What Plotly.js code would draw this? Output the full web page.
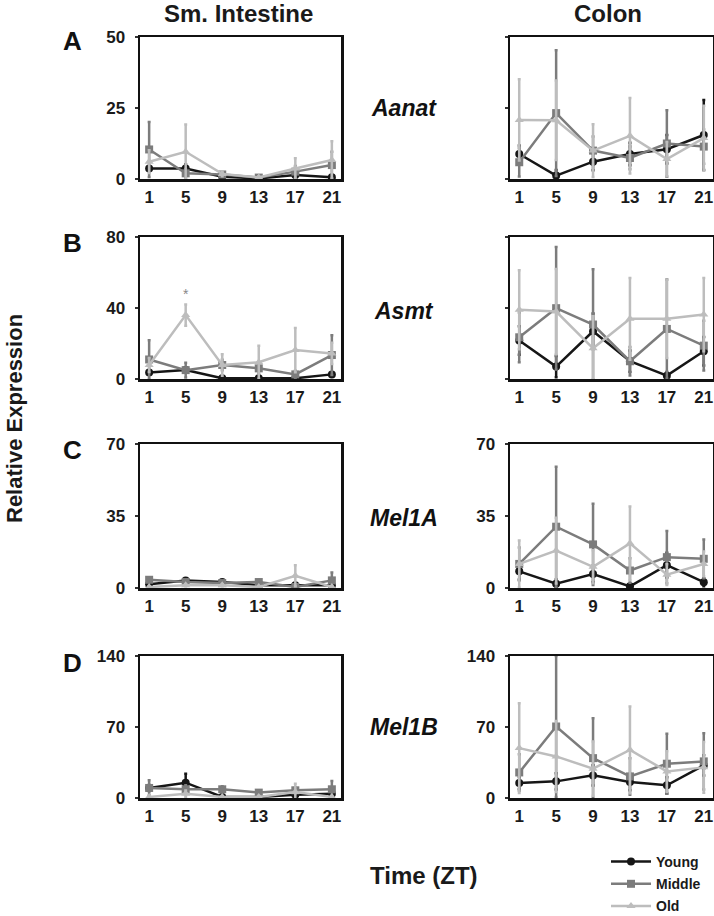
<!DOCTYPE html>
<html>
<head>
<meta charset="utf-8">
<script src="https://cdn.plot.ly/plotly-3.0.1.min.js"></script>
<style>html,body{margin:0;padding:0;background:#fff;}#chart{width:714px;height:916px;}</style>
</head>
<body>
<div id="chart"></div>
<script>
// ---- data ----
const zt = [1, 5, 9, 13, 17, 21];
const groups = ["Young", "Middle", "Old"];
const genes = ["Aanat", "Asmt", "Mel1A", "Mel1B"];
const panelLetters = ["A", "B", "C", "D"];
const yMax = [50, 80, 70, 140];

// Aanat - small intestine
const aanatSI_young = [3.7, 3.7, 0.8, 0.2, 1.4, 0.6];
const aanatSI_youngErr = [0.8, 1.5, 0.3, 0.2, 0.5, 0.3];
const aanatSI_middle = [10.4, 2.0, 1.6, 0.5, 2.6, 4.9];
const aanatSI_middleErr = [9.7, 1.5, 0.5, 0.3, 2.0, 4.7];
const aanatSI_old = [6.1, 9.6, 1.8, 0.5, 3.7, 6.7];
const aanatSI_oldErr = [4.0, 9.6, 0.8, 0.3, 3.6, 6.6];
// Aanat - colon
const aanatCo_young = [8.8, 1.2, 6.1, 8.8, 10.5, 15.5];
const aanatCo_youngErr = [3.0, 2.0, 3.0, 4.0, 5.0, 12.3];
const aanatCo_middle = [5.9, 23.2, 10.0, 7.4, 12.5, 11.4];
const aanatCo_middleErr = [5.0, 22.1, 5.0, 4.0, 11.7, 6.0];
const aanatCo_old = [20.8, 20.7, 10.0, 15.2, 7.0, 14.4];
const aanatCo_oldErr = [14.3, 14.0, 9.3, 13.3, 6.0, 11.4];
// Asmt - small intestine
const asmtSI_young = [3.7, 5.0, 0.4, 0.4, 0.4, 2.6];
const asmtSI_youngErr = [1.0, 1.5, 0.3, 0.3, 0.3, 1.0];
const asmtSI_middle = [11.0, 5.0, 7.9, 6.0, 2.6, 13.5];
const asmtSI_middleErr = [10.9, 4.2, 3.0, 3.0, 2.0, 11.2];
const asmtSI_old = [7.9, 36.0, 7.9, 9.4, 16.3, 14.4];
const asmtSI_oldErr = [4.0, 6.0, 6.1, 9.3, 12.5, 6.0];
// Asmt - colon
const asmtCo_young = [21.7, 7.0, 26.9, 10.0, 1.9, 15.6];
const asmtCo_youngErr = [8.0, 6.0, 10.0, 6.0, 2.0, 8.0];
const asmtCo_middle = [23.5, 39.9, 30.7, 10.0, 28.2, 18.8];
const asmtCo_middleErr = [14.0, 34.5, 31.1, 8.0, 27.9, 14.0];
const asmtCo_old = [39.0, 38.0, 17.3, 33.9, 33.9, 36.3];
const asmtCo_oldErr = [22.2, 24.0, 18.0, 23.0, 22.0, 20.6];
// Mel1A - small intestine
const mel1aSI_young = [1.8, 3.7, 2.9, 1.3, 1.3, 1.3];
const mel1aSI_youngErr = [0.8, 1.0, 0.8, 0.5, 0.5, 0.5];
const mel1aSI_middle = [4.0, 2.9, 2.4, 2.9, 0.5, 3.7];
const mel1aSI_middleErr = [1.0, 0.8, 0.8, 1.0, 0.5, 3.8];
const mel1aSI_old = [0.5, 1.3, 1.3, 0.5, 5.9, 0.5];
const mel1aSI_oldErr = [0.3, 0.5, 0.5, 0.3, 5.1, 0.3];
// Mel1A - colon
const mel1aCo_young = [8.1, 2.1, 6.8, 0.8, 11.1, 2.8];
const mel1aCo_youngErr = [4.0, 2.0, 4.0, 1.0, 6.0, 2.0];
const mel1aCo_middle = [11.7, 29.8, 21.2, 8.5, 15.0, 14.2];
const mel1aCo_middleErr = [8.0, 29.2, 19.8, 6.0, 12.7, 9.4];
const mel1aCo_old = [11.7, 18.2, 10.3, 21.7, 6.5, 11.7];
const mel1aCo_oldErr = [11.4, 16.0, 8.0, 17.9, 5.0, 6.0];
// Mel1B - small intestine
const mel1bSI_young = [9.9, 15.1, 1.0, 1.0, 3.3, 4.3];
const mel1bSI_youngErr = [3.0, 8.9, 1.0, 1.0, 2.0, 2.0];
const mel1bSI_middle = [9.9, 8.6, 8.6, 5.3, 7.6, 8.6];
const mel1bSI_middleErr = [7.5, 4.0, 3.0, 2.0, 3.0, 8.2];
const mel1bSI_old = [1.0, 4.3, 1.0, 1.0, 5.9, 1.0];
const mel1bSI_oldErr = [1.0, 3.0, 1.0, 1.0, 8.1, 1.0];
// Mel1B - colon
const mel1bCo_young = [14.8, 16.4, 22.3, 15.7, 12.5, 32.1];
const mel1bCo_youngErr = [6.0, 8.0, 10.0, 8.0, 8.0, 10.0];
const mel1bCo_middle = [25.2, 70.5, 39.3, 21.3, 33.8, 36.1];
const mel1bCo_middleErr = [18.0, 69.5, 39.4, 18.0, 29.5, 27.8];
const mel1bCo_old = [49.2, 41.0, 28.9, 47.5, 26.2, 30.2];
const mel1bCo_oldErr = [44.2, 35.0, 26.8, 42.7, 20.0, 25.0];

// ---- assemble ----
const panels = [
  [[aanatSI_young, aanatSI_youngErr, aanatSI_middle, aanatSI_middleErr, aanatSI_old, aanatSI_oldErr],
   [aanatCo_young, aanatCo_youngErr, aanatCo_middle, aanatCo_middleErr, aanatCo_old, aanatCo_oldErr]],
  [[asmtSI_young, asmtSI_youngErr, asmtSI_middle, asmtSI_middleErr, asmtSI_old, asmtSI_oldErr],
   [asmtCo_young, asmtCo_youngErr, asmtCo_middle, asmtCo_middleErr, asmtCo_old, asmtCo_oldErr]],
  [[mel1aSI_young, mel1aSI_youngErr, mel1aSI_middle, mel1aSI_middleErr, mel1aSI_old, mel1aSI_oldErr],
   [mel1aCo_young, mel1aCo_youngErr, mel1aCo_middle, mel1aCo_middleErr, mel1aCo_old, mel1aCo_oldErr]],
  [[mel1bSI_young, mel1bSI_youngErr, mel1bSI_middle, mel1bSI_middleErr, mel1bSI_old, mel1bSI_oldErr],
   [mel1bCo_young, mel1bCo_youngErr, mel1bCo_middle, mel1bCo_middleErr, mel1bCo_old, mel1bCo_oldErr]]
];

const colors = ["#161616", "#7c7c7c", "#bdbdbd"];
const symbols = ["circle", "square", "triangle-up"];
const FONT = "Liberation Sans, Arial, Helvetica, sans-serif";
const W = 714, H = 916;

const colDomX = [[140 / W, 341 / W], [510 / W, 713 / W]];
const rowPix = [[37, 179], [237, 379], [444, 588], [656, 798]];
const showYLabels = [[true, false], [true, false], [true, true], [true, true]];

const traces = [];
const layout = {
  width: W, height: H,
  margin: {l: 0, r: 0, t: 0, b: 0, autoexpand: false},
  paper_bgcolor: "#ffffff", plot_bgcolor: "#ffffff",
  font: {family: FONT, color: "#1a1a1a"},
  showlegend: true,
  legend: {
    x: 606 / W, y: 1 - 846 / H, xanchor: "left", yanchor: "top",
    font: {family: FONT, size: 14, weight: "bold", color: "#1a1a1a"},
    bgcolor: "rgba(0,0,0,0)", tracegroupgap: 1, itemwidth: 40
  },
  annotations: [],
  shapes: []
};

for (let r = 0; r < 4; r++) {
  for (let c = 0; c < 2; c++) {
    const n = r * 2 + c + 1;
    const xa = n === 1 ? "x" : "x" + n;
    const ya = n === 1 ? "y" : "y" + n;
    const d = panels[r][c];
    for (let g = 0; g < 3; g++) {
      traces.push({
        type: "scatter", mode: "lines+markers",
        x: zt, y: d[g * 2],
        error_y: {type: "data", array: d[g * 2 + 1], visible: true, color: colors[g], thickness: 2.5, width: 1.5},
        line: {color: colors[g], width: 2.5},
        marker: {color: colors[g], symbol: symbols[g], size: 8},
        name: groups[g], legendgroup: groups[g],
        showlegend: n === 1,
        xaxis: xa, yaxis: ya, cliponaxis: true
      });
    }
    const top = 1 - rowPix[r][0] / H, bot = 1 - rowPix[r][1] / H;
    const ymax = yMax[r];
    layout["xaxis" + (n === 1 ? "" : n)] = {
      domain: colDomX[c], range: [0, 22], anchor: ya,
      tickvals: zt, ticktext: zt.map(String), ticks: "",
      showline: true, mirror: true, linecolor: "#111", linewidth: 2.5,
      showgrid: false, zeroline: false, fixedrange: true,
      tickfont: {family: FONT, size: 17, weight: "bold", color: "#1a1a1a"},
      ticklabelstandoff: 1
    };
    layout["yaxis" + (n === 1 ? "" : n)] = {
      domain: [bot, top], range: [0, ymax], anchor: xa,
      tickvals: [0, ymax / 2, ymax], ticks: "outside", ticklen: 3, tickwidth: 1.2, tickcolor: "#333",
      showticklabels: showYLabels[r][c],
      showline: true, mirror: true, linecolor: "#111", linewidth: 2.5,
      showgrid: false, zeroline: false, fixedrange: true,
      tickfont: {family: FONT, size: 17, weight: "bold", color: "#1a1a1a"},
      ticklabelstandoff: 6
    };
  }
  // panel letter
  layout.annotations.push({
    xref: "paper", yref: "paper", x: 72 / W, y: 1 - [41, 243, 450, 663][r] / H,
    xanchor: "center", yanchor: "middle", showarrow: false,
    text: "<b>" + panelLetters[r] + "</b>",
    font: {family: FONT, size: 26, color: "#111"}
  });
  // gene label
  layout.annotations.push({
    xref: "paper", yref: "paper", x: 404 / W, y: 1 - [108, 311, 518, 727][r] / H,
    xanchor: "center", yanchor: "middle", showarrow: false,
    text: "<b><i>" + genes[r] + "</i></b>",
    font: {family: FONT, size: 23, color: "#111"}
  });
}

// significance marker
layout.annotations.push({
  xref: "x3", yref: "y3", x: 5, y: 48, showarrow: false,
  text: "*", font: {family: FONT, size: 14, color: "#888"}, xanchor: "center", yanchor: "middle"
});
// column titles
layout.annotations.push({
  xref: "paper", yref: "paper", x: 239 / W, y: 1 - 13 / H, xanchor: "center", yanchor: "middle",
  showarrow: false, text: "<b>Sm. Intestine</b>", font: {family: FONT, size: 24, color: "#1a1a1a"}
});
layout.annotations.push({
  xref: "paper", yref: "paper", x: 608 / W, y: 1 - 13 / H, xanchor: "center", yanchor: "middle",
  showarrow: false, text: "<b>Colon</b>", font: {family: FONT, size: 24, color: "#1a1a1a"}
});
// y title
layout.annotations.push({
  xref: "paper", yref: "paper", x: 14 / W, y: 1 - 419 / H, xanchor: "center", yanchor: "middle",
  showarrow: false, textangle: -90, text: "<b>Relative Expression</b>",
  font: {family: FONT, size: 22, color: "#1a1a1a"}
});
// x title
layout.annotations.push({
  xref: "paper", yref: "paper", x: 424 / W, y: 1 - 875 / H, xanchor: "center", yanchor: "middle",
  showarrow: false, text: "<b>Time (ZT)</b>", font: {family: FONT, size: 24, color: "#1a1a1a"}
});

Plotly.newPlot("chart", traces, layout, {displayModeBar: false, staticPlot: true});
</script>
</body>
</html>
